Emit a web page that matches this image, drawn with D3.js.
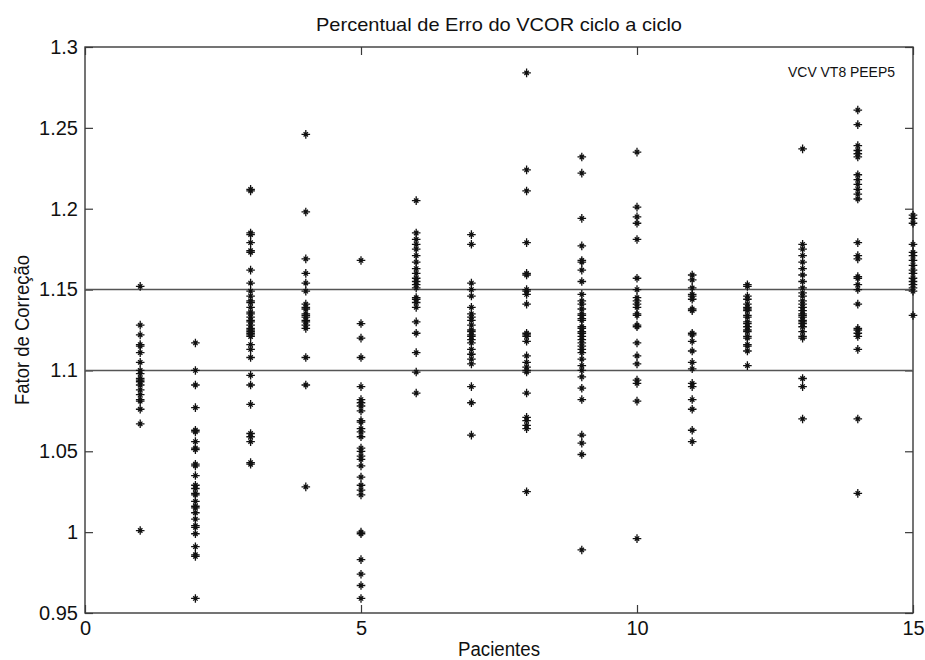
<!DOCTYPE html>
<html>
<head>
<meta charset="utf-8">
<script src="https://cdn.jsdelivr.net/npm/d3@7"></script>
<style>
  html, body { margin: 0; padding: 0; background: #ffffff; }
  svg { display: block; }
  text { font-family: "Liberation Sans Narrow", "Liberation Sans", Arial, sans-serif; fill: #111; }
</style>
</head>
<body>
<svg id="chart" width="925" height="660"></svg>
<script>
// ---- Data ----
const chartTitle = "Percentual de Erro do VCOR ciclo a ciclo";
const xLabel = "Pacientes";
const yLabel = "Fator de Correção";
const annotation = "VCV VT8 PEEP5";
const xTicks = [0, 5, 10, 15];
const yTicks = [0.95, 1, 1.05, 1.1, 1.15, 1.2, 1.25, 1.3];
const yTickLabels = ["0.95", "1", "1.05", "1.1", "1.15", "1.2", "1.25", "1.3"];
const refLines = [1.1, 1.15];

const patient1 = [1.152, 1.128, 1.122, 1.116, 1.115, 1.111, 1.105, 1.1, 1.098, 1.095, 1.094, 1.093, 1.091, 1.088, 1.085, 1.082, 1.081, 1.076, 1.067, 1.001];
const patient2 = [1.117, 1.1, 1.091, 1.077, 1.063, 1.062, 1.056, 1.052, 1.051, 1.042, 1.041, 1.035, 1.029, 1.027, 1.024, 1.023, 1.019, 1.016, 1.015, 1.012, 1.008, 1.004, 1.003, 0.999, 0.991, 0.986, 0.985, 0.959];
const patient3 = [1.212, 1.211, 1.185, 1.184, 1.179, 1.174, 1.173, 1.162, 1.154, 1.149, 1.146, 1.143, 1.142, 1.139, 1.136, 1.135, 1.133, 1.131, 1.130, 1.128, 1.126, 1.125, 1.124, 1.123, 1.122, 1.121, 1.116, 1.113, 1.108, 1.097, 1.091, 1.079, 1.061, 1.059, 1.056, 1.043, 1.042];
const patient4 = [1.246, 1.198, 1.169, 1.16, 1.154, 1.149, 1.141, 1.139, 1.138, 1.135, 1.134, 1.133, 1.131, 1.13, 1.128, 1.126, 1.108, 1.091, 1.028];
const patient5 = [1.168, 1.129, 1.12, 1.108, 1.09, 1.082, 1.08, 1.078, 1.075, 1.069, 1.068, 1.064, 1.062, 1.059, 1.052, 1.05, 1.047, 1.045, 1.041, 1.034, 1.029, 1.026, 1.023, 1.0, 0.999, 0.983, 0.974, 0.967, 0.959];
const patient6 = [1.205, 1.185, 1.181, 1.178, 1.175, 1.171, 1.167, 1.163, 1.16, 1.157, 1.155, 1.153, 1.151, 1.145, 1.144, 1.142, 1.139, 1.13, 1.123, 1.111, 1.099, 1.086];
const patient7 = [1.184, 1.178, 1.154, 1.15, 1.146, 1.139, 1.135, 1.133, 1.131, 1.128, 1.125, 1.124, 1.122, 1.121, 1.119, 1.117, 1.113, 1.11, 1.107, 1.104, 1.09, 1.08, 1.06];
const patient8 = [1.284, 1.224, 1.211, 1.179, 1.16, 1.159, 1.15, 1.149, 1.147, 1.141, 1.123, 1.122, 1.121, 1.118, 1.109, 1.105, 1.102, 1.1, 1.099, 1.086, 1.071, 1.069, 1.066, 1.064, 1.025];
const patient9 = [1.232, 1.222, 1.194, 1.177, 1.168, 1.167, 1.162, 1.155, 1.147, 1.143, 1.141, 1.138, 1.135, 1.134, 1.132, 1.131, 1.127, 1.126, 1.124, 1.123, 1.121, 1.119, 1.117, 1.115, 1.113, 1.111, 1.107, 1.103, 1.1, 1.096, 1.089, 1.082, 1.06, 1.055, 1.048, 0.989];
const patient10 = [1.235, 1.201, 1.195, 1.191, 1.181, 1.157, 1.15, 1.145, 1.143, 1.141, 1.139, 1.135, 1.134, 1.128, 1.127, 1.117, 1.109, 1.104, 1.094, 1.092, 1.081, 0.996];
const patient11 = [1.159, 1.156, 1.151, 1.147, 1.146, 1.144, 1.138, 1.137, 1.123, 1.122, 1.118, 1.112, 1.105, 1.101, 1.092, 1.09, 1.082, 1.076, 1.063, 1.056];
const patient12 = [1.153, 1.152, 1.146, 1.144, 1.141, 1.139, 1.138, 1.137, 1.134, 1.133, 1.13, 1.129, 1.127, 1.125, 1.124, 1.121, 1.12, 1.116, 1.115, 1.112, 1.103];
const patient13 = [1.237, 1.178, 1.175, 1.171, 1.167, 1.163, 1.159, 1.155, 1.151, 1.148, 1.146, 1.143, 1.141, 1.139, 1.137, 1.135, 1.134, 1.133, 1.131, 1.13, 1.129, 1.127, 1.124, 1.121, 1.12, 1.095, 1.09, 1.07];
const patient14 = [1.261, 1.252, 1.239, 1.236, 1.234, 1.232, 1.221, 1.218, 1.215, 1.212, 1.209, 1.206, 1.179, 1.171, 1.169, 1.158, 1.157, 1.153, 1.15, 1.141, 1.126, 1.125, 1.123, 1.121, 1.113, 1.07, 1.024];
const patient15 = [1.196, 1.194, 1.191, 1.178, 1.173, 1.171, 1.168, 1.165, 1.162, 1.16, 1.157, 1.155, 1.153, 1.151, 1.149, 1.134];

const patientSeries = [patient1, patient2, patient3, patient4, patient5, patient6, patient7, patient8,
  patient9, patient10, patient11, patient12, patient13, patient14, patient15];

// ---- Layout ----
const W = 925, H = 660;
const margin = { top: 47, right: 12, bottom: 47, left: 85 };
const iw = W - margin.left - margin.right;
const ih = H - margin.top - margin.bottom;

const svg = d3.select("#chart");
const g = svg.append("g").attr("transform", `translate(${margin.left},${margin.top})`);

const x = d3.scaleLinear().domain([0, 15]).range([0, iw]);
const y = d3.scaleLinear().domain([0.95, 1.3]).range([ih, 0]);

const axisColor = "#3a3a3a";
const tickLen = 8;

// Frame
g.append("rect").attr("x", 0).attr("y", 0).attr("width", iw).attr("height", ih)
  .attr("fill", "none").attr("stroke", axisColor).attr("stroke-width", 1.4);

// Axes (ticks pointing inward)
const xAxisB = g.append("g").attr("transform", `translate(0,${ih})`)
  .call(d3.axisBottom(x).tickValues(xTicks).tickSize(-tickLen).tickPadding(8).tickFormat(d3.format("d")));
const xAxisT = g.append("g")
  .call(d3.axisTop(x).tickValues(xTicks).tickSize(-tickLen).tickFormat(""));
const yAxisL = g.append("g")
  .call(d3.axisLeft(y).tickValues(yTicks).tickSize(-tickLen).tickPadding(7)
    .tickFormat((d, i) => yTickLabels[i]));
const yAxisR = g.append("g").attr("transform", `translate(${iw},0)`)
  .call(d3.axisRight(y).tickValues(yTicks).tickSize(-tickLen).tickFormat(""));

[xAxisB, xAxisT, yAxisL, yAxisR].forEach(a => {
  a.select(".domain").remove();
  a.selectAll(".tick line").attr("stroke", axisColor).attr("stroke-width", 1.2);
  a.selectAll(".tick text").attr("font-size", 20).attr("fill", "#111")
    .attr("font-family", "'Liberation Sans Narrow', 'Liberation Sans', Arial, sans-serif");
});

// Reference lines
g.selectAll(".ref").data(refLines).enter().append("line")
  .attr("x1", 0).attr("x2", iw)
  .attr("y1", d => y(d)).attr("y2", d => y(d))
  .attr("stroke", "#555").attr("stroke-width", 1.6);

// Points (asterisk markers)
const points = [];
patientSeries.forEach((vals, i) => vals.forEach(v => points.push({ p: i + 1, v })));
const s = 4.3, sd = 2.2;
const starPath = `M${-s},0L${s},0M0,${-s}L0,${s}M${-sd},${-sd}L${sd},${sd}M${-sd},${sd}L${sd},${-sd}`;
g.selectAll(".pt").data(points).enter().append("path")
  .attr("transform", d => `translate(${x(d.p)},${y(d.v)})`)
  .attr("d", starPath)
  .attr("stroke", "#111").attr("stroke-width", 1.3).attr("fill", "none");

// Title and labels
svg.append("text").attr("x", margin.left + iw / 2).attr("y", 31)
  .attr("text-anchor", "middle").attr("font-size", 19)
  .attr("textLength", 366).attr("lengthAdjust", "spacingAndGlyphs")
  .text(chartTitle);

svg.append("text").attr("x", margin.left + iw / 2).attr("y", 656)
  .attr("text-anchor", "middle").attr("font-size", 20)
  .attr("textLength", 82).attr("lengthAdjust", "spacingAndGlyphs")
  .text(xLabel);

svg.append("text")
  .attr("transform", `translate(29,${margin.top + ih / 2}) rotate(-90)`)
  .attr("text-anchor", "middle").attr("font-size", 20)
  .attr("textLength", 150).attr("lengthAdjust", "spacingAndGlyphs")
  .text(yLabel);

svg.append("text").attr("x", 895).attr("y", 77)
  .attr("text-anchor", "end").attr("font-size", 14).attr("fill", "#333")
  .attr("textLength", 107).attr("lengthAdjust", "spacingAndGlyphs")
  .text(annotation);
</script>
</body>
</html>
